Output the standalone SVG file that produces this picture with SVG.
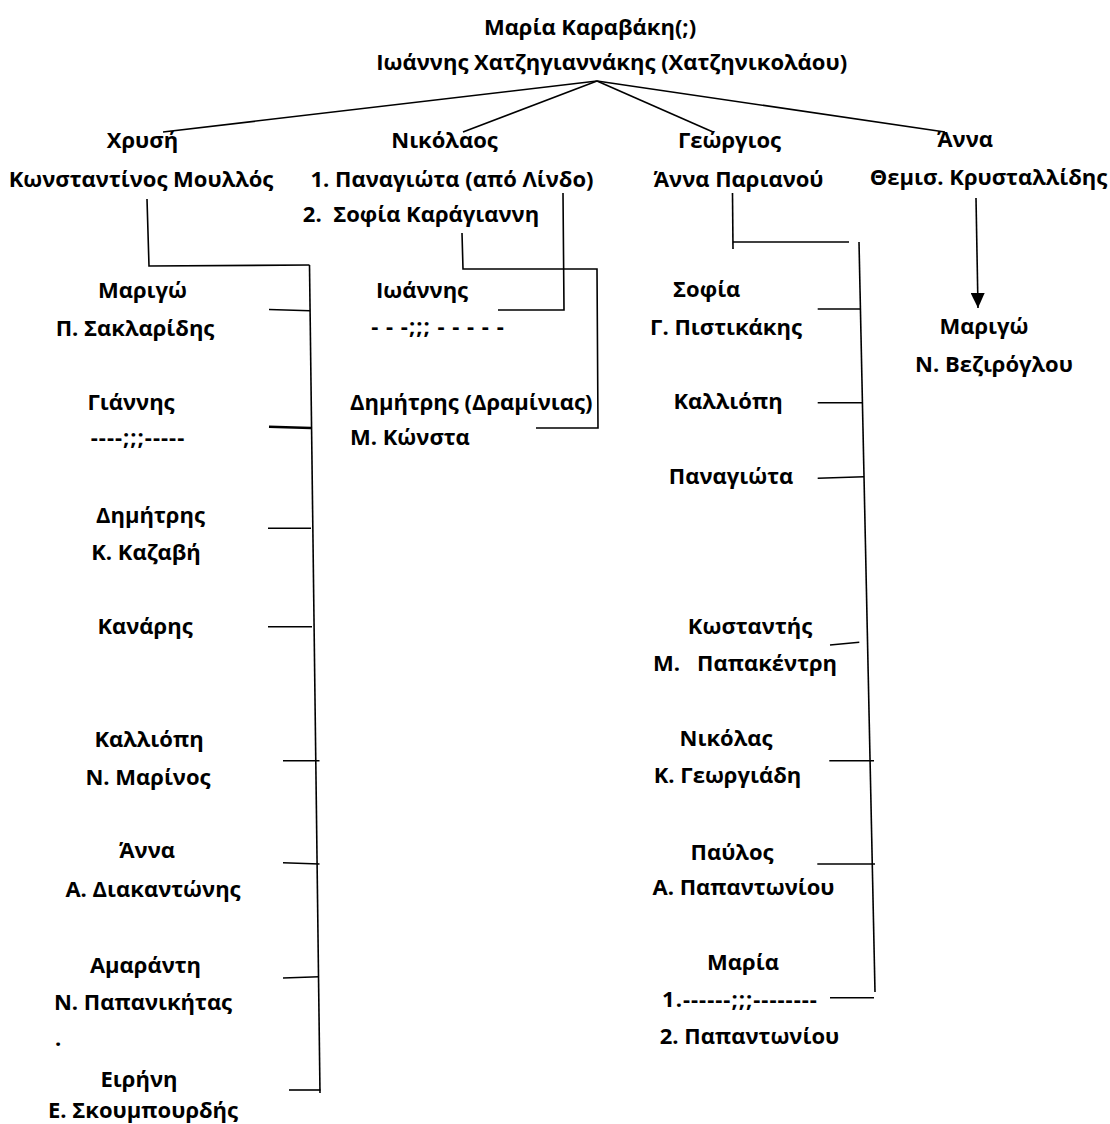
<svg xmlns="http://www.w3.org/2000/svg" width="1110" height="1124" viewBox="0 0 1110 1124">
<style>
text{font-family:"Open Sans","Noto Sans","DejaVu Sans",sans-serif;font-weight:bold;font-size:22px;fill:#000;text-anchor:middle;white-space:pre}
.l{text-anchor:start}
.d{letter-spacing:1px}
.c line,.c polyline{stroke:#000;stroke-width:1.6;fill:none}
</style>
<defs>
<marker id="ah" markerUnits="userSpaceOnUse" markerWidth="15" markerHeight="14" refX="15" refY="7" orient="auto">
<path d="M0,0 L15,7 L0,14 z" fill="#000"/>
</marker>
</defs>
<rect width="1110" height="1124" fill="#fff"/>
<g class="c" id="connectors">
<line x1="597" y1="81" x2="163" y2="132"/>
<line x1="597" y1="81" x2="463" y2="132"/>
<line x1="597" y1="81" x2="713" y2="132"/>
<line x1="597" y1="81" x2="945" y2="132"/>
<polyline points="147,199 149,266 309.5,265"/>
<line x1="309.5" y1="265" x2="320" y2="1093"/>
<line x1="269" y1="309.5" x2="310" y2="310.7"/>
<line x1="269" y1="426.7" x2="311" y2="428" style="stroke-width:2.4"/>
<line x1="268" y1="528.3" x2="311" y2="528.3"/>
<line x1="268" y1="626.7" x2="312" y2="626.7"/>
<line x1="283" y1="760.7" x2="319.5" y2="760.7"/>
<line x1="283" y1="862.7" x2="319.5" y2="864"/>
<line x1="283" y1="978" x2="319" y2="976.7"/>
<line x1="289" y1="1090" x2="320.5" y2="1090"/>
<polyline points="563,193 564,310 498,310"/>
<polyline points="462,233 463,269 597,269 598,428 536,428"/>
<line x1="732.5" y1="193" x2="733" y2="249"/>
<line x1="733" y1="242" x2="849" y2="242"/>
<line x1="859" y1="242" x2="875" y2="992"/>
<line x1="817.7" y1="309" x2="860.5" y2="309"/>
<line x1="817.7" y1="402.7" x2="862.5" y2="402.7"/>
<line x1="817.7" y1="478.3" x2="864" y2="476.7"/>
<line x1="830" y1="645" x2="859.3" y2="642.3"/>
<line x1="829.3" y1="760.7" x2="874" y2="760.7"/>
<line x1="817.3" y1="864" x2="875" y2="864"/>
<line x1="830" y1="997.7" x2="874" y2="997.7"/>
<line x1="976" y1="198" x2="978" y2="308" marker-end="url(#ah)"/>
</g>
<g id="n-root"><text x="590" y="35">Μαρία Καραβάκη(;)</text><text x="611.7" y="70">Ιωάννης Χατζηγιαννάκης (Χατζηνικολάου)</text></g>
<g id="n-chrysi"><text x="142.5" y="148">Χρυσή</text><text x="141" y="187">Κωνσταντίνος Μουλλός</text></g>
<g id="n-nikolaos"><text x="444.5" y="148">Νικόλαος</text><text x="452" y="187">1. Παναγιώτα (από Λίνδο)</text><text x="421" y="222">2.  Σοφία Καράγιαννη</text></g>
<g id="n-georgios"><text x="729.5" y="148">Γεώργιος</text><text x="738.5" y="187">Άννα Παριανού</text></g>
<g id="n-anna"><text x="965" y="147">Άννα</text><text x="988.5" y="185">Θεμισ. Κρυσταλλίδης</text></g>
<g id="n-marigo1"><text x="142.5" y="298">Μαριγώ</text><text x="135" y="336">Π. Σακλαρίδης</text></g>
<g id="n-giannis"><text x="131" y="410">Γιάννης</text><text class="d" x="138" y="445">----;;;-----</text></g>
<g id="n-dimitris1"><text x="150.5" y="523">Δημήτρης</text><text x="146" y="560">Κ. Καζαβή</text></g>
<g id="n-kanaris"><text x="145" y="634">Κανάρης</text></g>
<g id="n-kalliopi1"><text x="149" y="747">Καλλιόπη</text><text x="148" y="785">Ν. Μαρίνος</text></g>
<g id="n-anna2"><text x="147" y="858">Άννα</text><text x="153" y="897">Α. Διακαντώνης</text></g>
<g id="n-amaranti"><text x="145.5" y="973">Αμαράντη</text><text x="143" y="1010">Ν. Παπανικήτας</text><text class="l" x="55" y="1046">.</text></g>
<g id="n-eirini"><text x="139" y="1087">Ειρήνη</text><text x="143" y="1118">Ε. Σκουμπουρδής</text></g>
<g id="n-ioannis"><text x="422" y="298">Ιωάννης</text><text class="d" x="438" y="334">- - -;;; - - - - -</text></g>
<g id="n-dimitris2"><text class="l" x="350" y="410">Δημήτρης (Δραμίνιας)</text><text class="l" x="350" y="445">Μ. Κώνστα</text></g>
<g id="n-sofia"><text x="706.7" y="297">Σοφία</text><text x="726" y="335">Γ. Πιστικάκης</text></g>
<g id="n-kalliopi2"><text x="728" y="409">Καλλιόπη</text></g>
<g id="n-panagiota"><text x="731" y="484">Παναγιώτα</text></g>
<g id="n-kostantis"><text x="750" y="634">Κωσταντής</text><text x="745" y="671">Μ.   Παπακέντρη</text></g>
<g id="n-nikolas"><text x="726" y="746">Νικόλας</text><text x="727.5" y="783">Κ. Γεωργιάδη</text></g>
<g id="n-pavlos"><text x="732" y="860">Παύλος</text><text x="743.5" y="895">Α. Παπαντωνίου</text></g>
<g id="n-maria"><text x="743" y="970">Μαρία</text><text class="d" x="740" y="1007">1.------;;;--------</text><text x="749.5" y="1044">2. Παπαντωνίου</text></g>
<g id="n-marigo2"><text x="984" y="334">Μαριγώ</text><text x="994" y="372">Ν. Βεζιρόγλου</text></g>
</svg>
